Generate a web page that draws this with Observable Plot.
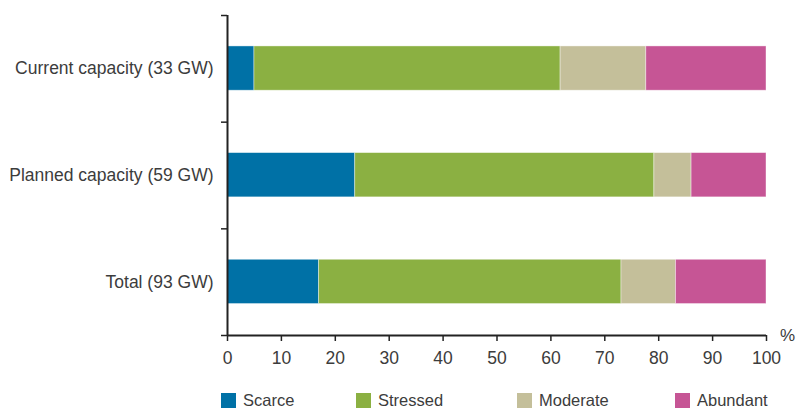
<!DOCTYPE html>
<html>
<head>
<meta charset="utf-8">
<script src="https://cdn.jsdelivr.net/npm/d3@7"></script>
<script src="https://cdn.jsdelivr.net/npm/@observablehq/plot@0.6"></script>
<style>
  body { margin: 0; background: #fff; font-family: "Liberation Sans", Arial, sans-serif; }
  #chart { position: relative; width: 796px; height: 410px; overflow: hidden; }
  .legend { position: absolute; top: 391px; left: 0; width: 796px; height: 18px; }
  .item { position: absolute; top: 0; display: flex; align-items: center; font-size: 16.5px; line-height: 18px; color: #3c3c3c; }
  .sw { width: 15px; height: 15px; margin-right: 7px; }
</style>
</head>
<body>
<div id="chart"></div>
<script>
const categories = ["Current capacity (33 GW)", "Planned capacity (59 GW)", "Total (93 GW)"];
const series = ["Scarce", "Stressed", "Moderate", "Abundant"];
const colors = ["#0071a6", "#8bb042", "#c4bf9a", "#c65595"];
const scarce   = [5.0, 23.7, 17.0];
const stressed = [56.8, 55.5, 56.1];
const moderate = [15.9, 6.9, 10.1];
const abundant = [22.3, 13.9, 16.8];
const xTicks = [0, 10, 20, 30, 40, 50, 60, 70, 80, 90, 100];

const valuesBySeries = [scarce, stressed, moderate, abundant];
const data = [];
categories.forEach((c, i) => {
  series.forEach((s, k) => {
    data.push({category: c, idx: i, series: s, value: valuesBySeries[k][i]});
  });
});

const ink = "#222";
const textColor = "#3c3c3c";

const plot = Plot.plot({
  width: 796,
  height: 384,
  marginLeft: 227,
  marginRight: 30,
  marginTop: 15,
  marginBottom: 49,
  style: {fontFamily: "Liberation Sans, Arial, sans-serif", fontSize: "17.5px", color: textColor, background: "#fff"},
  x: {domain: [0, 100], ticks: xTicks},
  y: {domain: [0, categories.length], reverse: true},
  color: {domain: series, range: colors},
  marks: [
    Plot.rectX(data, Plot.stackX({
      x: "value",
      y1: d => d.idx + 0.29,
      y2: d => d.idx + 0.705,
      z: "series",
      fill: "series",
      order: series,
      stroke: "#fff",
      strokeOpacity: 0.5,
      strokeWidth: 0.8
    })),
    Plot.axisY({ticks: d3.range(categories.length + 1), tickSize: 6, tickFormat: () => "", stroke: ink, strokeWidth: 1.5}),
    Plot.axisY({ticks: categories.map((c, i) => i + 0.5), tickSize: 0, tickPadding: 14, tickFormat: (v) => categories[Math.floor(v)], fill: textColor, fontSize: 17.5, label: null}),
    Plot.axisX({ticks: xTicks, tickSize: 6, tickPadding: 10, stroke: ink, strokeWidth: 1.5, fill: textColor, fontSize: 17.5, label: null}),
    Plot.ruleX([0], {stroke: ink, strokeWidth: 2}),
    Plot.ruleY([categories.length], {stroke: ink, strokeWidth: 2}),
    Plot.text(["%"], {x: 100, y: categories.length, text: d => d, dx: 21, dy: 0, fill: textColor, fontSize: 17, textAnchor: "middle"})
  ]
});

const chart = document.getElementById("chart");
chart.appendChild(plot);

const legendLeft = [221, 356, 517, 675];
const legend = document.createElement("div");
legend.className = "legend";
series.forEach((s, k) => {
  const item = document.createElement("div");
  item.className = "item";
  item.style.left = legendLeft[k] + "px";
  const sw = document.createElement("span");
  sw.className = "sw";
  sw.style.background = colors[k];
  const label = document.createElement("span");
  label.textContent = s;
  item.appendChild(sw);
  item.appendChild(label);
  legend.appendChild(item);
});
chart.appendChild(legend);
</script>
</body>
</html>
